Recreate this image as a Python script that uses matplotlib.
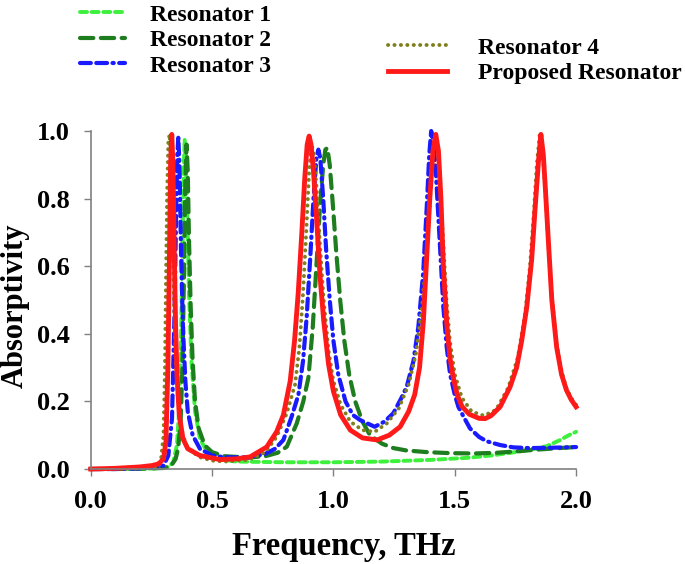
import matplotlib
matplotlib.use("Agg")
import matplotlib.pyplot as plt

plt.rcParams['font.family'] = ['Liberation Serif', 'DejaVu Serif']
plt.rcParams['font.weight'] = 'bold'

# frequency (THz) / absorptivity
f_r1 = [0.0, 0.1, 0.2, 0.28, 0.32, 0.34, 0.355, 0.365, 0.372, 0.378, 0.383, 0.387, 0.392, 0.398, 0.405,
        0.415, 0.43, 0.45, 0.48, 0.52, 0.6, 0.8, 1.0, 1.2, 1.4, 1.55, 1.65, 1.75, 1.82, 1.88, 1.935, 1.97, 2.0]
a_r1 = [0.0, 0.0, 0.0, 0.002, 0.006, 0.02, 0.07, 0.18, 0.38, 0.65, 0.88, 0.975, 0.92, 0.75, 0.52,
        0.32, 0.17, 0.09, 0.05, 0.03, 0.022, 0.02, 0.02, 0.022, 0.027, 0.033, 0.04, 0.05, 0.058, 0.068, 0.086, 0.1, 0.11]

f_r2 = [0.0, 0.1, 0.2, 0.3, 0.33, 0.35, 0.36, 0.37, 0.378, 0.385, 0.39, 0.395, 0.4, 0.405, 0.412,
        0.42, 0.43, 0.445, 0.47, 0.5, 0.55, 0.65, 0.72, 0.77, 0.808, 0.849, 0.876, 0.897, 0.915, 0.93,
        0.945, 0.958, 0.967, 0.975, 0.985, 0.998, 1.012, 1.028, 1.045, 1.065, 1.09, 1.12, 1.151, 1.2,
        1.247, 1.3, 1.385, 1.48, 1.577, 1.67, 1.75, 1.85, 1.93, 2.0]
a_r2 = [0.0, 0.0, 0.001, 0.003, 0.008, 0.03, 0.06, 0.13, 0.3, 0.6, 0.85, 0.96, 0.88, 0.68, 0.48,
        0.32, 0.2, 0.12, 0.07, 0.05, 0.038, 0.034, 0.038, 0.048, 0.066, 0.135, 0.2, 0.27, 0.42, 0.6,
        0.78, 0.9, 0.945, 0.95, 0.9, 0.78, 0.64, 0.5, 0.38, 0.28, 0.2, 0.14, 0.1, 0.075,
        0.062, 0.055, 0.05, 0.047, 0.046, 0.048, 0.052, 0.058, 0.062, 0.065]

f_r3 = [0.0, 0.1, 0.2, 0.27, 0.3, 0.32, 0.335, 0.345, 0.352, 0.357, 0.361, 0.366, 0.372, 0.38, 0.39,
        0.4, 0.42, 0.45, 0.5, 0.55, 0.65, 0.72, 0.76, 0.794, 0.828, 0.856, 0.875, 0.89, 0.905, 0.918,
        0.93, 0.938, 0.946, 0.958, 0.97, 0.985, 1.0, 1.02, 1.05, 1.08, 1.11, 1.17, 1.21, 1.247, 1.28,
        1.302, 1.33, 1.35, 1.37, 1.385, 1.395, 1.403, 1.412, 1.422, 1.433, 1.453, 1.467, 1.481, 1.5, 1.515,
        1.54, 1.563, 1.6, 1.632, 1.687, 1.742, 1.81, 1.9, 2.0]
a_r3 = [0.0, 0.0, 0.002, 0.005, 0.01, 0.04, 0.15, 0.45, 0.75, 0.93, 0.98, 0.9, 0.65, 0.42, 0.26,
        0.17, 0.1, 0.06, 0.04, 0.035, 0.034, 0.045, 0.06, 0.086, 0.155, 0.22, 0.32, 0.45, 0.63, 0.8,
        0.92, 0.945, 0.92, 0.8, 0.65, 0.5, 0.38, 0.28, 0.2, 0.16, 0.145, 0.125, 0.14, 0.165, 0.21,
        0.243, 0.32, 0.42, 0.58, 0.78, 0.93, 1.0, 0.97, 0.88, 0.74, 0.48, 0.36, 0.28, 0.22, 0.184,
        0.15, 0.12, 0.095, 0.082, 0.071, 0.064, 0.062, 0.063, 0.065]

f_r4 = [0.0, 0.1, 0.2, 0.27, 0.29, 0.3, 0.306, 0.31, 0.315, 0.32, 0.325, 0.33, 0.336, 0.343, 0.35,
        0.36, 0.375, 0.4, 0.45, 0.5, 0.55, 0.65, 0.72, 0.766, 0.808, 0.842, 0.86, 0.875, 0.888, 0.9,
        0.91, 0.92, 0.932, 0.945, 0.96, 0.98, 1.0, 1.03, 1.07, 1.12, 1.17, 1.22, 1.27, 1.31, 1.34,
        1.365, 1.385, 1.4, 1.41, 1.418, 1.428, 1.44, 1.452, 1.466, 1.48, 1.5, 1.53, 1.57, 1.62, 1.67,
        1.72, 1.76, 1.79, 1.81, 1.826, 1.838, 1.85, 1.86, 1.872, 1.885, 1.9, 1.92, 1.94, 1.96, 1.98, 2.0]
a_r4 = [0.0, 0.001, 0.002, 0.005, 0.03, 0.1, 0.3, 0.55, 0.82, 0.97, 0.99, 0.93, 0.75, 0.5, 0.33,
        0.2, 0.11, 0.06, 0.035, 0.025, 0.022, 0.027, 0.05, 0.095, 0.165, 0.25, 0.36, 0.52, 0.7, 0.88,
        0.96, 0.93, 0.82, 0.66, 0.5, 0.35, 0.26, 0.19, 0.14, 0.115, 0.11, 0.135, 0.18, 0.25, 0.34,
        0.48, 0.65, 0.82, 0.93, 0.98, 0.96, 0.85, 0.68, 0.5, 0.38, 0.28, 0.21, 0.17, 0.158, 0.175,
        0.24, 0.33, 0.46, 0.6, 0.76, 0.9, 0.99, 0.95, 0.84, 0.67, 0.51, 0.37, 0.29, 0.24, 0.21, 0.19]

f_rp = [0.0, 0.1, 0.2, 0.25, 0.28, 0.3, 0.31, 0.318, 0.324, 0.329, 0.334, 0.339, 0.344, 0.35, 0.356,
        0.365, 0.38, 0.4, 0.45, 0.533, 0.6, 0.657, 0.725, 0.766, 0.794, 0.822, 0.84, 0.855, 0.87, 0.882,
        0.892, 0.9, 0.908, 0.918, 0.93, 0.945, 0.96, 0.98, 1.0, 1.03, 1.07, 1.12, 1.18, 1.23, 1.275,
        1.31, 1.335, 1.355, 1.371, 1.384, 1.398, 1.41, 1.422, 1.433, 1.443, 1.453, 1.467, 1.48, 1.494, 1.51,
        1.53, 1.56, 1.6, 1.625, 1.65, 1.687, 1.728, 1.755, 1.776, 1.797, 1.817, 1.831, 1.845, 1.855, 1.865,
        1.873, 1.887, 1.9, 1.92, 1.94, 1.96, 1.98, 2.0]
a_rp = [0.0, 0.002, 0.006, 0.01, 0.015, 0.03, 0.08, 0.3, 0.6, 0.9, 0.99, 0.9, 0.65, 0.42, 0.27,
        0.16, 0.09, 0.06, 0.04, 0.028, 0.03, 0.036, 0.065, 0.11, 0.16, 0.26, 0.38, 0.52, 0.7, 0.86,
        0.96, 0.985, 0.96, 0.88, 0.75, 0.57, 0.44, 0.31, 0.23, 0.16, 0.115, 0.092, 0.086, 0.1, 0.125,
        0.17, 0.22, 0.3, 0.44, 0.62, 0.81, 0.94, 0.99, 0.94, 0.8, 0.6, 0.43, 0.33, 0.27, 0.22,
        0.185, 0.162, 0.15, 0.149, 0.158, 0.184, 0.243, 0.3, 0.38, 0.48, 0.62, 0.77, 0.91, 0.99, 0.93,
        0.835, 0.66, 0.5, 0.36, 0.28, 0.234, 0.205, 0.184]

labels = ["Resonator 1", "Resonator 2", "Resonator 3", "Resonator 4", "Proposed Resonator"]
xticks = [0.0, 0.5, 1.0, 1.5, 2.0]
yticks = [0.0, 0.2, 0.4, 0.6, 0.8, 1.0]

fig = plt.figure(figsize=(6.85, 5.64), dpi=100)
ax = fig.add_axes([0.1324, 0.1684, 0.7086, 0.5993])

l1, = ax.plot(f_r1, a_r1, color="#3cf03c", lw=2.8, dashes=(1.8, 1.2), dash_capstyle="round", clip_on=False)
l2, = ax.plot(f_r2, a_r2, color="#1e7d1e", lw=3.0, dashes=(3.2, 1.8), dash_capstyle="round", clip_on=False)
l3, = ax.plot(f_r3, a_r3, color="#1a1aff", lw=3.0, dashes=(2.6, 1.3, 2.6, 1.3, 0.3, 1.3),
              dash_capstyle="round", clip_on=False)
l4, = ax.plot(f_r4, a_r4, color="#7f7f1e", lw=2.8, dashes=(0.05, 1.6), dash_capstyle="round", clip_on=False)
l5, = ax.plot(f_rp, a_rp, color="#ff1a1a", lw=3.5, solid_joinstyle="round", clip_on=False)

ax.set_xlim(0, 2.0)
ax.set_ylim(0, 1.0)
ax.set_xticks(xticks)
ax.set_yticks(yticks)
ax.set_xticklabels([f"{v:.1f}" for v in xticks])
ax.set_yticklabels([f"{v:.1f}" for v in yticks])
ax.tick_params(labelsize=19, length=5, width=1, color="#808080", pad=10)
for s in ["top", "right"]:
    ax.spines[s].set_visible(False)
for s in ["left", "bottom"]:
    ax.spines[s].set_color("#808080")
    ax.spines[s].set_linewidth(1.2)

ax.set_xlabel("Frequency, THz", fontsize=23.5, fontweight="bold")
ax.xaxis.set_label_coords(0.521, -0.183)
ax.set_ylabel("Absorptivity", fontsize=22, fontweight="bold")
ax.yaxis.set_label_coords(-0.125, 0.482)

leg1 = fig.legend([l1, l2, l3], labels[:3], loc="upper left", bbox_to_anchor=(80 / 685, 1.0 - 4 / 564),
                  frameon=False, fontsize=17, handlelength=1.9, handletextpad=1.05, labelspacing=0.17,
                  borderpad=0, borderaxespad=0)
leg2 = fig.legend([l4, l5], labels[3:], loc="upper left", bbox_to_anchor=(388 / 685, 1.0 - 37 / 564),
                  frameon=False, fontsize=17, handlelength=2.5, handletextpad=1.3, labelspacing=0.17,
                  borderpad=0, borderaxespad=0)

fig.savefig("out.png", dpi=100)
